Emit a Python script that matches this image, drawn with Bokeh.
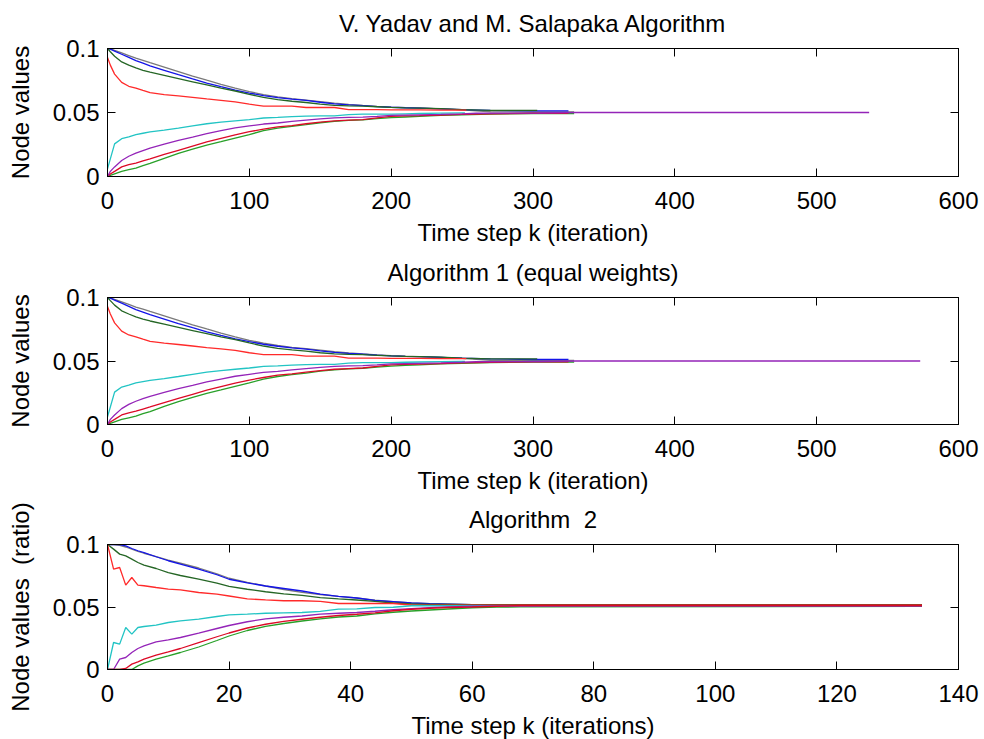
from bokeh.plotting import figure
from bokeh.layouts import column
from bokeh.models import Range1d, LinearAxis, FixedTicker
from bokeh.embed import file_html
from bokeh.resources import INLINE

FONT = "Liberation Sans"

# ---- Node trajectories, V. Yadav / M. Salapaka and Algorithm 1 (iterations) ----
k_main = [0, 2, 5, 10, 15, 20, 25, 30, 40, 50, 60, 70, 80, 90, 100, 110, 120, 130,
          140, 150, 160, 170, 180, 190, 200, 210, 220, 235, 250]

gray_main = [0.1, 0.0998, 0.0985, 0.0965, 0.0945, 0.0925, 0.0908, 0.089, 0.0855, 0.082,
             0.0785, 0.0752, 0.072, 0.069, 0.0663, 0.064, 0.0622, 0.0608, 0.0597, 0.0585,
             0.0573, 0.0563, 0.0555, 0.0548, 0.0542, 0.0538, 0.0535, 0.0528, 0.052]
blue_main = [0.1, 0.0995, 0.098, 0.0955, 0.093, 0.0905, 0.0885, 0.0865, 0.083, 0.0795,
             0.0762, 0.073, 0.0702, 0.0675, 0.0652, 0.0632, 0.0616, 0.0604, 0.0594, 0.058,
             0.0568, 0.056, 0.0553, 0.0546, 0.0541, 0.0537, 0.0534, 0.0528, 0.0522]
dgreen_main = [0.1, 0.0975, 0.094, 0.0895, 0.087, 0.0848, 0.083, 0.0815, 0.079, 0.0765,
               0.074, 0.0715, 0.069, 0.0668, 0.0642, 0.0618, 0.06, 0.0588, 0.0578, 0.0565,
               0.0556, 0.0552, 0.055, 0.0545, 0.054, 0.0536, 0.0534, 0.053, 0.0522]
salmon_main = [0.093, 0.087, 0.080, 0.0735, 0.0705, 0.069, 0.0672, 0.0655, 0.064, 0.063,
               0.0618, 0.0606, 0.0595, 0.0583, 0.0565, 0.055, 0.055, 0.055, 0.0539, 0.0539,
               0.0539, 0.0523, 0.0523, 0.0523, 0.0521, 0.052, 0.052, 0.0519, 0.0518]
cyan_main = [0.006, 0.0138, 0.0255, 0.0295, 0.031, 0.0328, 0.0338, 0.0348, 0.0362, 0.0378,
             0.0395, 0.0412, 0.0425, 0.0435, 0.0445, 0.0457, 0.0462, 0.0468, 0.0471, 0.0474,
             0.0474, 0.0484, 0.0487, 0.0487, 0.0487, 0.049, 0.0492, 0.0495, 0.0497]
purple_main = [0.0, 0.004, 0.0075, 0.0125, 0.0158, 0.0183, 0.0203, 0.0222, 0.0252, 0.0282,
               0.0308, 0.0335, 0.0358, 0.038, 0.0395, 0.041, 0.0418, 0.043, 0.044, 0.045,
               0.0458, 0.0462, 0.0464, 0.047, 0.0477, 0.048, 0.0482, 0.0485, 0.049]
red_main = [0.0, 0.002, 0.004, 0.0075, 0.0092, 0.0105, 0.0122, 0.0138, 0.0172, 0.0205,
            0.0238, 0.027, 0.0298, 0.0325, 0.035, 0.037, 0.0388, 0.0398, 0.0412, 0.0425,
            0.0435, 0.044, 0.0445, 0.0458, 0.047, 0.0473, 0.0475, 0.048, 0.0485]
green_main = [0.0, 0.0008, 0.002, 0.004, 0.0053, 0.0066, 0.0085, 0.0102, 0.0142, 0.018,
              0.0213, 0.0245, 0.0272, 0.03, 0.0328, 0.0358, 0.0378, 0.0392, 0.0405, 0.042,
              0.043, 0.0438, 0.0443, 0.0452, 0.046, 0.0465, 0.0469, 0.0478, 0.0482]

# settling tails: (iterations, values) after k = 250
gray_tail_k, gray_tail_v = [270, 300, 329], [0.0506, 0.0504, 0.0504]
blue_tail_k, blue_tail_v = [270, 300, 325], [0.0516, 0.0512, 0.0512]
dgreen_tail_k, dgreen_tail_v = [270, 303], [0.0516, 0.0516]
salmon_tail_k, salmon_tail_v = [253], [0.0518]
cyan_tail_k, cyan_tail_v = [252], [0.0497]
red_tail_k, red_tail_v = [270, 300, 325], [0.049, 0.0494, 0.0494]
green_tail_k, green_tail_v = [270, 300, 329], [0.0488, 0.0492, 0.0492]
purple_tail_k_yadav, purple_tail_v_yadav = [260, 305, 330, 537], [0.0494, 0.0496, 0.05, 0.05]
purple_tail_k_alg1, purple_tail_v_alg1 = [260, 305, 330, 573], [0.0494, 0.0496, 0.05, 0.05]

# ---- Algorithm 2 (ratio consensus) ----
k_ratio = [0, 1, 2, 3, 4, 5, 6, 8, 10, 12, 15, 18, 20, 23, 26, 29, 32, 35, 38, 41, 44,
           47, 50, 53, 56, 60, 64, 68, 134]
gray_ratio = [0.1, 0.1, 0.0993, 0.098, 0.0962, 0.0945, 0.093, 0.0903, 0.0875, 0.085,
              0.0812, 0.0765, 0.073, 0.0697, 0.0668, 0.064, 0.0617, 0.06, 0.0585, 0.0572,
              0.0555, 0.0542, 0.0532, 0.0527, 0.0523, 0.0518, 0.0517, 0.0516, 0.0516]
blue_ratio = [0.1, 0.1, 0.1, 0.0989, 0.0968, 0.095, 0.0935, 0.0902, 0.087, 0.0843,
              0.0803, 0.0758, 0.0722, 0.0693, 0.0668, 0.0648, 0.0628, 0.0603, 0.0585, 0.0572,
              0.0552, 0.0542, 0.0532, 0.0527, 0.0523, 0.0518, 0.0517, 0.0516, 0.0516]
dgreen_ratio = [0.1, 0.0963, 0.0923, 0.0909, 0.0883, 0.0856, 0.0835, 0.0808, 0.0775, 0.0752,
                0.0723, 0.0691, 0.0665, 0.0642, 0.0622, 0.0605, 0.0593, 0.0575, 0.0565, 0.0556,
                0.0545, 0.0532, 0.0524, 0.0521, 0.052, 0.0519, 0.0518, 0.0518, 0.0518]
salmon_ratio = [0.1, 0.0803, 0.0816, 0.0675, 0.0736, 0.0675, 0.067, 0.0656, 0.0643, 0.0637,
                0.0616, 0.0603, 0.0588, 0.0565, 0.0557, 0.055, 0.055, 0.0545, 0.0528, 0.0528,
                0.0528, 0.0528, 0.0516, 0.0515, 0.0515, 0.0515, 0.0515, 0.0515, 0.0515]
cyan_ratio = [0.0, 0.0216, 0.0203, 0.0336, 0.0283, 0.0336, 0.0344, 0.0355, 0.0376, 0.0389,
              0.0403, 0.0424, 0.0437, 0.0443, 0.045, 0.0453, 0.0456, 0.0465, 0.0483, 0.0485,
              0.0496, 0.0498, 0.051, 0.051, 0.051, 0.051, 0.051, 0.051, 0.051]
purple_ratio = [0.0, 0.0, 0.0083, 0.0096, 0.0136, 0.0168, 0.0189, 0.0221, 0.0237, 0.0256,
                0.0291, 0.0328, 0.0352, 0.0382, 0.0405, 0.0418, 0.0428, 0.0443, 0.045, 0.0456,
                0.0466, 0.0478, 0.0487, 0.0495, 0.0501, 0.0506, 0.0508, 0.0508, 0.0508]
red_ratio = [0.0, 0.0, 0.0, 0.0008, 0.0043, 0.0061, 0.0083, 0.0115, 0.0141, 0.0168,
             0.0215, 0.0262, 0.0292, 0.0332, 0.0362, 0.0385, 0.0402, 0.0418, 0.0432, 0.0442,
             0.0453, 0.047, 0.0482, 0.049, 0.0496, 0.05, 0.0506, 0.0512, 0.0512]
green_ratio = [0.0, 0.0, 0.0, 0.0, 0.0, 0.0029, 0.0051, 0.0083, 0.0109, 0.0136,
               0.018, 0.0232, 0.0268, 0.0312, 0.0345, 0.0368, 0.0388, 0.0405, 0.042, 0.0428,
               0.0445, 0.0458, 0.0468, 0.0476, 0.0484, 0.0494, 0.0499, 0.0501, 0.0506]

x_ticks_long = [0, 100, 200, 300, 400, 500, 600]
x_ticks_short = [0, 20, 40, 60, 80, 100, 120, 140]
y_ticks = [0, 0.05, 0.1]
y_tick_labels = {0: "0", 0.05: "0.05", 0.1: "0.1"}

C_GRAY, C_BLUE, C_DGREEN, C_SALMON = "#7a7a7a", "#1414e8", "#256625", "#ff2a2a"
C_CYAN, C_GREEN, C_RED, C_PURPLE = "#22c4c4", "#28a028", "#dc0a26", "#9424b8"


def make_panel(title, xlabel, ylabel, xmax, xticks, frame_h, top, bottom):
    p = figure(frame_width=851, frame_height=frame_h,
               x_range=Range1d(0, xmax), y_range=Range1d(0, 0.1),
               output_backend="svg", toolbar_location=None, title=title,
               min_border_left=107, min_border_right=26,
               min_border_top=top, min_border_bottom=bottom)
    p.title.align = "center"
    p.title.vertical_align = "top"
    p.title.text_font = FONT
    p.title.text_font_size = "24px"
    p.title.text_font_style = "normal"
    p.title.text_color = "#000000"
    p.title.standoff = 19
    p.grid.visible = False
    p.outline_line_color = "#000000"
    p.background_fill_color = "white"
    p.border_fill_color = "white"

    for ax in (p.xaxis[0], p.yaxis[0]):
        ax.major_tick_in = 8
        ax.major_tick_out = 0
        ax.minor_tick_in = 0
        ax.minor_tick_out = 0
        ax.axis_line_color = "#000000"
        ax.major_tick_line_color = "#000000"
        ax.major_label_text_font = FONT
        ax.major_label_text_font_size = "24px"
        ax.major_label_text_color = "#000000"
        ax.axis_label_text_font = FONT
        ax.axis_label_text_font_size = "24px"
        ax.axis_label_text_font_style = "normal"
        ax.axis_label_text_color = "#000000"

    p.xaxis[0].ticker = FixedTicker(ticks=xticks)
    p.xaxis[0].axis_label = xlabel
    p.xaxis[0].major_label_standoff = 15
    p.xaxis[0].axis_label_standoff = 7
    p.yaxis[0].ticker = FixedTicker(ticks=y_ticks)
    p.yaxis[0].major_label_overrides = y_tick_labels
    p.yaxis[0].axis_label = ylabel
    p.yaxis[0].major_label_standoff = 8
    p.yaxis[0].axis_label_standoff = 16

    # mirrored inward ticks on the top and right edges (their labels are not painted)
    for side, ticks in (("above", xticks), ("right", y_ticks)):
        mirror = LinearAxis(ticker=FixedTicker(ticks=ticks), major_tick_in=8, major_tick_out=0,
                            minor_tick_in=0, minor_tick_out=0,
                            major_label_text_font_size="1px", major_label_text_color=None,
                            major_label_standoff=0, axis_line_color="#000000",
                            major_tick_line_color="#000000")
        p.add_layout(mirror, side)
    return p


def draw_runs(p, purple_tail_k, purple_tail_v):
    runs = [
        (gray_main, gray_tail_k, gray_tail_v, C_GRAY),
        (blue_main, blue_tail_k, blue_tail_v, C_BLUE),
        (dgreen_main, dgreen_tail_k, dgreen_tail_v, C_DGREEN),
        (salmon_main, salmon_tail_k, salmon_tail_v, C_SALMON),
        (cyan_main, cyan_tail_k, cyan_tail_v, C_CYAN),
        (green_main, green_tail_k, green_tail_v, C_GREEN),
        (red_main, red_tail_k, red_tail_v, C_RED),
        (purple_main, purple_tail_k, purple_tail_v, C_PURPLE),
    ]
    for vals, tk, tv, col in runs:
        p.line(k_main + tk, vals + tv, line_color=col, line_width=1.3)


p1 = make_panel("V. Yadav and M. Salapaka Algorithm", "Time step k (iteration)", "Node values",
                600, x_ticks_long, 128, 47, 71)
draw_runs(p1, purple_tail_k_yadav, purple_tail_v_yadav)

p2 = make_panel("Algorithm 1 (equal weights)", "Time step k (iteration)", "Node values",
                600, x_ticks_long, 127, 49, 72)
draw_runs(p2, purple_tail_k_alg1, purple_tail_v_alg1)

p3 = make_panel("Algorithm \u00a02", "Time step k (iterations)", "Node values \u00a0(ratio)",
                140, x_ticks_short, 125, 48, 72)
for vals, col in [(gray_ratio, C_GRAY), (blue_ratio, C_BLUE), (dgreen_ratio, C_DGREEN),
                  (salmon_ratio, C_SALMON), (cyan_ratio, C_CYAN), (green_ratio, C_GREEN),
                  (purple_ratio, C_PURPLE), (red_ratio, C_RED)]:
    p3.line(k_ratio, vals, line_color=col, line_width=1.3)

layout = column(p1, p2, p3, spacing=0)
open("out.html", "w").write(file_html(layout, INLINE))
